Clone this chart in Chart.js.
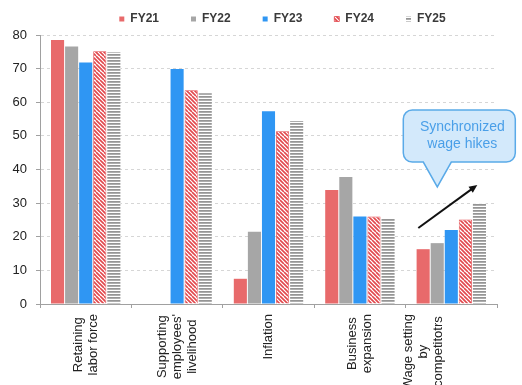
<!DOCTYPE html>
<html>
<head>
<meta charset="utf-8">
<script src="https://cdn.jsdelivr.net/npm/chart.js@4/dist/chart.umd.min.js"></script>
<style>
  html, body { margin: 0; padding: 0; background: #ffffff; }
  #wrap { width: 522px; height: 385px; }
</style>
</head>
<body>
<div id="wrap"><canvas id="c" width="522" height="385"></canvas></div>
<script>
// Categories (multi-line labels) and yearly series values
const categories = [
  ['Retaining', 'labor force'],
  ['Supporting', "employees'", 'livelihood'],
  ['Inflation'],
  ['Business', 'expansion'],
  ['Wage setting', 'by', 'competitotrs']
];
const seriesNames = ['FY21', 'FY22', 'FY23', 'FY24', 'FY25'];
const fy21 = [78.5, null, 7.5, 33.9, 16.3];
const fy22 = [76.6, null, 21.5, 37.8, 18.1];
const fy23 = [71.8, 69.9, 57.3, 26.0, 22.0];
const fy24 = [75.2, 63.6, 51.4, 26.0, 25.1];
const fy25 = [74.9, 62.7, 54.4, 25.6, 30.0];
const yMin = 0, yMax = 80, yStep = 10;
const calloutText = ['Synchronized', 'wage hikes'];

// Fill patterns
function diagonalPattern(color) {
  const s = 8;
  const c = document.createElement('canvas');
  c.width = s; c.height = s;
  const g = c.getContext('2d');
  g.fillStyle = '#ffffff';
  g.fillRect(0, 0, s, s);
  g.strokeStyle = color;
  g.lineWidth = 1.6;
  g.beginPath();
  for (let k = -s; k <= 2 * s; k += s / 2) {
    g.moveTo(k, 0);
    g.lineTo(k + s, s);
  }
  g.stroke();
  return g.createPattern(c, 'repeat');
}
function stripePattern() {
  const c = document.createElement('canvas');
  c.width = 4; c.height = 3;
  const g = c.getContext('2d');
  g.fillStyle = '#ffffff'; g.fillRect(0, 0, 4, 3);
  g.fillStyle = '#959595'; g.fillRect(0, 0, 4, 1);
  g.fillStyle = '#adadad'; g.fillRect(0, 1, 4, 1);
  return g.createPattern(c, 'repeat');
}

const red = '#e86a6b';
const grey = '#a6a6a6';
const blue = '#2f96f3';
const hatchRed = '#e2474c';

const FONT = '"Liberation Sans", Arial, sans-serif';

// Vertical, centred multi-line category labels below the x axis
const categoryLabels = {
  id: 'categoryLabels',
  afterDraw(chart, args, opts) {
    const xs = chart.scales.x;
    const ctx = chart.ctx;
    const lh = opts.lineHeight;
    ctx.save();
    ctx.font = opts.size + 'px ' + FONT;
    ctx.fillStyle = opts.color;
    ctx.textAlign = 'center';
    ctx.textBaseline = 'middle';
    categories.forEach((lines, i) => {
      const x = xs.getPixelForValue(i) + (opts.nudge[i] || 0);
      const maxW = Math.max(...lines.map(l => ctx.measureText(l).width));
      const cy = xs.top + opts.gap + maxW / 2;
      ctx.save();
      ctx.translate(x, cy);
      ctx.rotate(-Math.PI / 2);
      lines.forEach((l, j) => {
        ctx.fillText(l, 0, (j - (lines.length - 1) / 2) * lh);
      });
      ctx.restore();
    });
    ctx.restore();
  }
};

// Speech-bubble note plus trend arrow over the last category
const callout = {
  id: 'callout',
  afterDraw(chart) {
    const xs = chart.scales.x, ys = chart.scales.y;
    const ctx = chart.ctx;
    const cx = xs.getPixelForValue(categories.length - 1);
    const left = cx - 48, right = cx + 64;
    const top = ys.getPixelForValue(57.7), bottom = ys.getPixelForValue(42.2);
    const tipX = cx - 14, tipY = ys.getPixelForValue(34.8);
    const r = 9;
    ctx.save();
    ctx.beginPath();
    ctx.moveTo(left + r, top);
    ctx.lineTo(right - r, top);
    ctx.arcTo(right, top, right, top + r, r);
    ctx.lineTo(right, bottom - r);
    ctx.arcTo(right, bottom, right - r, bottom, r);
    ctx.lineTo(cx, bottom);
    ctx.lineTo(tipX, tipY);
    ctx.lineTo(cx - 28, bottom);
    ctx.lineTo(left + r, bottom);
    ctx.arcTo(left, bottom, left, bottom - r, r);
    ctx.lineTo(left, top + r);
    ctx.arcTo(left, top, left + r, top, r);
    ctx.closePath();
    ctx.fillStyle = '#d3e9fb';
    ctx.fill();
    ctx.lineWidth = 1.5;
    ctx.strokeStyle = '#5aaae8';
    ctx.stroke();

    ctx.fillStyle = '#4a9fe8';
    ctx.font = '14px ' + FONT;
    ctx.textAlign = 'center';
    ctx.textBaseline = 'middle';
    const tx = (left + right) / 2 + 3;
    const midY = (top + bottom) / 2;
    ctx.fillText(calloutText[0], tx, midY - 8.5);
    ctx.fillText(calloutText[1], tx, midY + 8.5);

    // arrow
    const x1 = cx - 33, y1 = ys.getPixelForValue(22.6);
    const x2 = cx + 26, y2 = ys.getPixelForValue(35.4);
    const ang = Math.atan2(y2 - y1, x2 - x1);
    ctx.strokeStyle = '#111111';
    ctx.lineWidth = 2;
    ctx.beginPath();
    ctx.moveTo(x1, y1);
    ctx.lineTo(x2 - 4 * Math.cos(ang), y2 - 4 * Math.sin(ang));
    ctx.stroke();
    ctx.fillStyle = '#111111';
    ctx.beginPath();
    ctx.moveTo(x2, y2);
    ctx.lineTo(x2 - 9 * Math.cos(ang - 0.42), y2 - 9 * Math.sin(ang - 0.42));
    ctx.lineTo(x2 - 9 * Math.cos(ang + 0.42), y2 - 9 * Math.sin(ang + 0.42));
    ctx.closePath();
    ctx.fill();
    ctx.restore();
  }
};

// Move the legend row sideways after layout
const legendShift = {
  id: 'legendShift',
  afterLayout(chart, args, opts) {
    const lg = chart.legend;
    if (lg) { lg.left += opts.dx; lg.right += opts.dx; }
  }
};

const commonBar = { categoryPercentage: 0.77, barPercentage: 0.93, borderWidth: 0 };

new Chart(document.getElementById('c'), {
  type: 'bar',
  data: {
    labels: categories,
    datasets: [
      { label: seriesNames[0], data: fy21, backgroundColor: red, ...commonBar },
      { label: seriesNames[1], data: fy22, backgroundColor: grey, ...commonBar },
      { label: seriesNames[2], data: fy23, backgroundColor: blue, ...commonBar },
      { label: seriesNames[3], data: fy24, backgroundColor: diagonalPattern(hatchRed), ...commonBar, borderWidth: 0.8, borderColor: hatchRed },
      { label: seriesNames[4], data: fy25, backgroundColor: stripePattern(), ...commonBar }
    ]
  },
  options: {
    responsive: false,
    animation: false,
    devicePixelRatio: 1,
    layout: { padding: { top: -19, right: 25, bottom: 0, left: 0 } },
    plugins: {
      legend: {
        position: 'top',
        labels: {
          boxWidth: 5,
          boxHeight: 5,
          padding: 32,
          color: '#3a3a3a',
          font: { family: FONT, size: 12, weight: 'bold' }
        }
      },
      tooltip: { enabled: false },
      legendShift: { dx: 34 },
      categoryLabels: { size: 13, lineHeight: 15, gap: 10, color: '#222222', nudge: { 4: -28 } }
    },
    scales: {
      x: {
        grid: { drawOnChartArea: false, drawTicks: true, tickLength: 4, tickColor: '#a0a0a0', offset: true },
        border: { color: '#a0a0a0', width: 1 },
        ticks: { display: false },
        afterFit(scale) { scale.height = 81; }
      },
      y: {
        min: yMin,
        max: yMax,
        ticks: {
          stepSize: yStep,
          padding: 9,
          color: '#222222',
          font: { family: FONT, size: 13 }
        },
        grid: { color: '#d6d6d6', tickColor: '#a0a0a0', tickLength: 4, tickBorderDash: [] },
        border: { color: '#a0a0a0', width: 1, dash: [3, 3] },
        afterFit(scale) { scale.width = 40; }
      }
    }
  },
  plugins: [categoryLabels, callout, legendShift]
});
</script>
</body>
</html>
